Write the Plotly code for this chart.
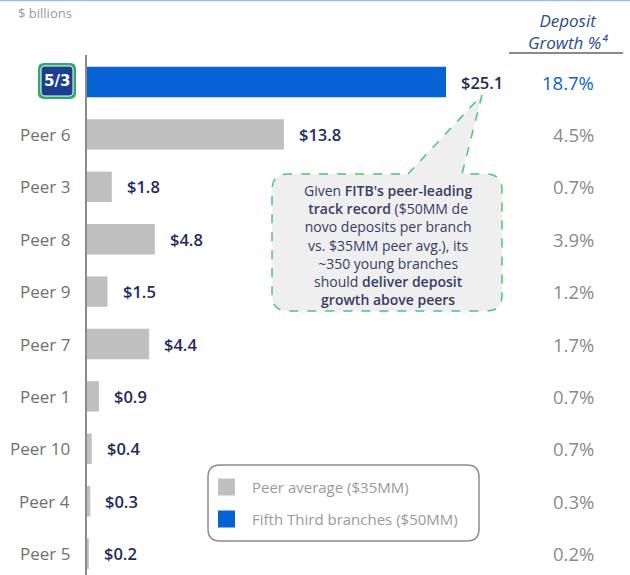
import plotly.graph_objects as go

W, H = 630, 575

# ---- data ----
categories = ["Fifth Third", "Peer 6", "Peer 3", "Peer 8", "Peer 9", "Peer 7",
              "Peer 1", "Peer 10", "Peer 4", "Peer 5"]
cat_labels = ["", "Peer 6", "Peer 3", "Peer 8", "Peer 9", "Peer 7",
              "Peer 1", "Peer 10", "Peer 4", "Peer 5"]
values = [25.1, 13.8, 1.8, 4.8, 1.5, 4.4, 0.9, 0.4, 0.3, 0.2]
value_labels = ["$25.1", "$13.8", "$1.8", "$4.8", "$1.5", "$4.4", "$0.9", "$0.4", "$0.3", "$0.2"]
growth_labels = ["18.7%", "4.5%", "0.7%", "3.9%", "1.2%", "1.7%", "0.7%", "0.7%", "0.3%", "0.2%"]
legend_labels = ["Peer average ($35MM)", "Fifth Third branches ($50MM)"]
header_lines = ["Deposit", "Growth %⁴"]
callout_lines = [
    "Given <span style='font-weight:600'>FITB's peer-leading</span>",
    "<span style='font-weight:600'>track record</span> ($50MM de",
    "novo deposits per branch",
    "vs. $35MM peer avg.), its",
    "~350 young branches",
    "should <span style='font-weight:600'>deliver deposit</span>",
    "<span style='font-weight:600'>growth above peers</span>",
]

BLUE = "#0762d3"
GRAY = "#c0c0c0"
bar_colors = [BLUE] + [GRAY] * (len(values) - 1)
legend_colors = [GRAY, BLUE]

FONT = "Open Sans"


def px(x):
    return x / W


def py(y):
    return 1 - y / H


fig = go.Figure()
fig.add_trace(go.Bar(
    x=values, y=categories, orientation="h",
    marker=dict(color=bar_colors, line=dict(width=0)),
    width=0.58, hoverinfo="skip", showlegend=False,
))

axis_px = 86
scale = 360 / 25.1  # px per $bn
row0, step = 82, 52.4

fig.update_layout(
    width=W, height=H,
    margin=dict(l=0, r=0, t=0, b=0),
    paper_bgcolor="white", plot_bgcolor="white",
    font=dict(family=FONT),
    xaxis=dict(domain=[axis_px / W, 1], range=[0, (W - axis_px) / scale],
               visible=False, fixedrange=True),
    yaxis=dict(domain=[0, 1], type="category", categoryorder="array",
               categoryarray=categories,
               range=[(H - row0) / step, -row0 / step],
               visible=False, fixedrange=True),
)

shapes = []
annotations = []


def P(x, y):
    return f"{px(x):.5f},{py(y):.5f}"


def rounded(L, T, R, B, r):
    return (f"M {P(L + r, T)} L {P(R - r, T)} Q {P(R, T)} {P(R, T + r)} "
            f"L {P(R, B - r)} Q {P(R, B)} {P(R - r, B)} L {P(L + r, B)} "
            f"Q {P(L, B)} {P(L, B - r)} L {P(L, T + r)} Q {P(L, T)} {P(L + r, T)} Z")


# top thin blue rule
shapes.append(dict(type="line", xref="paper", yref="paper", x0=0, x1=1,
                   y0=py(0.5), y1=py(0.5), line=dict(color="#9dbbe8", width=1.5)))
# vertical axis line
shapes.append(dict(type="line", xref="paper", yref="paper", x0=px(axis_px), x1=px(axis_px),
                   y0=py(55), y1=0, line=dict(color="#8a8a8a", width=2)))

# "$ billions"
annotations.append(dict(text="$ billions", xref="paper", yref="paper", x=px(16), y=py(13),
                        xanchor="left", yanchor="middle", showarrow=False,
                        font=dict(size=13, color="#9a9a9a")))

# column header
annotations.append(dict(text="<i>" + "<br>".join(header_lines) + "</i>", xref="paper",
                        yref="paper", x=px(568), y=py(31), xanchor="center",
                        yanchor="middle", showarrow=False,
                        font=dict(size=17, color="#2c4a8c")))
shapes.append(dict(type="line", xref="paper", yref="paper", x0=px(509), x1=px(623),
                   y0=py(53), y1=py(53), line=dict(color="#8a8a8a", width=2)))

# category labels, value labels, growth labels
for i, cat in enumerate(categories):
    if cat_labels[i]:
        annotations.append(dict(text=cat_labels[i], xref="paper", yref="y", x=px(72), y=cat,
                                xanchor="right", yanchor="middle", showarrow=False,
                                font=dict(size=17, color="#707070")))
    annotations.append(dict(text=value_labels[i], xref="x", yref="y",
                            x=values[i], y=cat, xanchor="left", yanchor="middle",
                            xshift=13, showarrow=False,
                            font=dict(size=16.5, color="#1e2b5e", weight=600)))
    annotations.append(dict(text=growth_labels[i], xref="paper", yref="y", x=px(596), y=cat,
                            xanchor="right", yanchor="middle", showarrow=False,
                            font=dict(size=18.5, color=(BLUE if i == 0 else "#8a8a8a"))))

# Fifth Third logo
lx0, lx1, ly0, ly1 = 38, 76, 63, 99
shapes.append(dict(type="path", xref="paper", yref="paper", path=rounded(lx0, ly0, lx1, ly1, 6),
                   fillcolor="#2fa870", line=dict(width=0)))
shapes.append(dict(type="path", xref="paper", yref="paper",
                   path=rounded(lx0 + 3, ly0 + 3, lx1 - 3, ly1 - 3, 4),
                   fillcolor="#1b3f8f", line=dict(color="white", width=1)))
annotations.append(dict(text="<b>5/3</b>", xref="paper", yref="paper", x=px(57), y=py(81),
                        xanchor="center", yanchor="middle", showarrow=False,
                        font=dict(size=15, color="white", family="DejaVu Sans")))

# callout bubble
L, R, T, B, r = 272, 502, 174, 311, 16
a, b = 408, 462
tipx, tipy = 482, 95
path = (f"M {P(a, T)} L {P(tipx, tipy)} L {P(b, T)} L {P(R - r, T)} "
        f"Q {P(R, T)} {P(R, T + r)} L {P(R, B - r)} Q {P(R, B)} {P(R - r, B)} "
        f"L {P(L + r, B)} Q {P(L, B)} {P(L, B - r)} L {P(L, T + r)} "
        f"Q {P(L, T)} {P(L + r, T)} Z")
shapes.append(dict(type="path", xref="paper", yref="paper", path=path,
                   fillcolor="#efefef", line=dict(color="#45c87a", width=1.5, dash="dash")))
annotations.append(dict(text="<br>".join(callout_lines), xref="paper", yref="paper",
                        x=px(388), y=py(245), xanchor="center", yanchor="middle",
                        align="center", showarrow=False,
                        font=dict(size=14, color="#353d66")))

# legend box
GL, GR, GT, GB, gr = 208, 479, 465, 541, 12
shapes.append(dict(type="path", xref="paper", yref="paper", path=rounded(GL, GT, GR, GB, gr),
                   fillcolor="white", line=dict(color="#8c8c8c", width=1.5)))
for k, (lab, col) in enumerate(zip(legend_labels, legend_colors)):
    cy = 487 + 32 * k
    shapes.append(dict(type="rect", xref="paper", yref="paper", x0=px(218), x1=px(235),
                       y0=py(cy + 8.5), y1=py(cy - 8.5), fillcolor=col, line=dict(width=0)))
    annotations.append(dict(text=lab, xref="paper", yref="paper", x=px(250), y=py(cy),
                            xanchor="left", yanchor="middle", showarrow=False,
                            font=dict(size=15, color="#9a9a9a")))

fig.update_layout(shapes=shapes, annotations=annotations)
fig.write_html("out.html", config={"displayModeBar": False},
               post_script="document.body.style.margin='0';")
